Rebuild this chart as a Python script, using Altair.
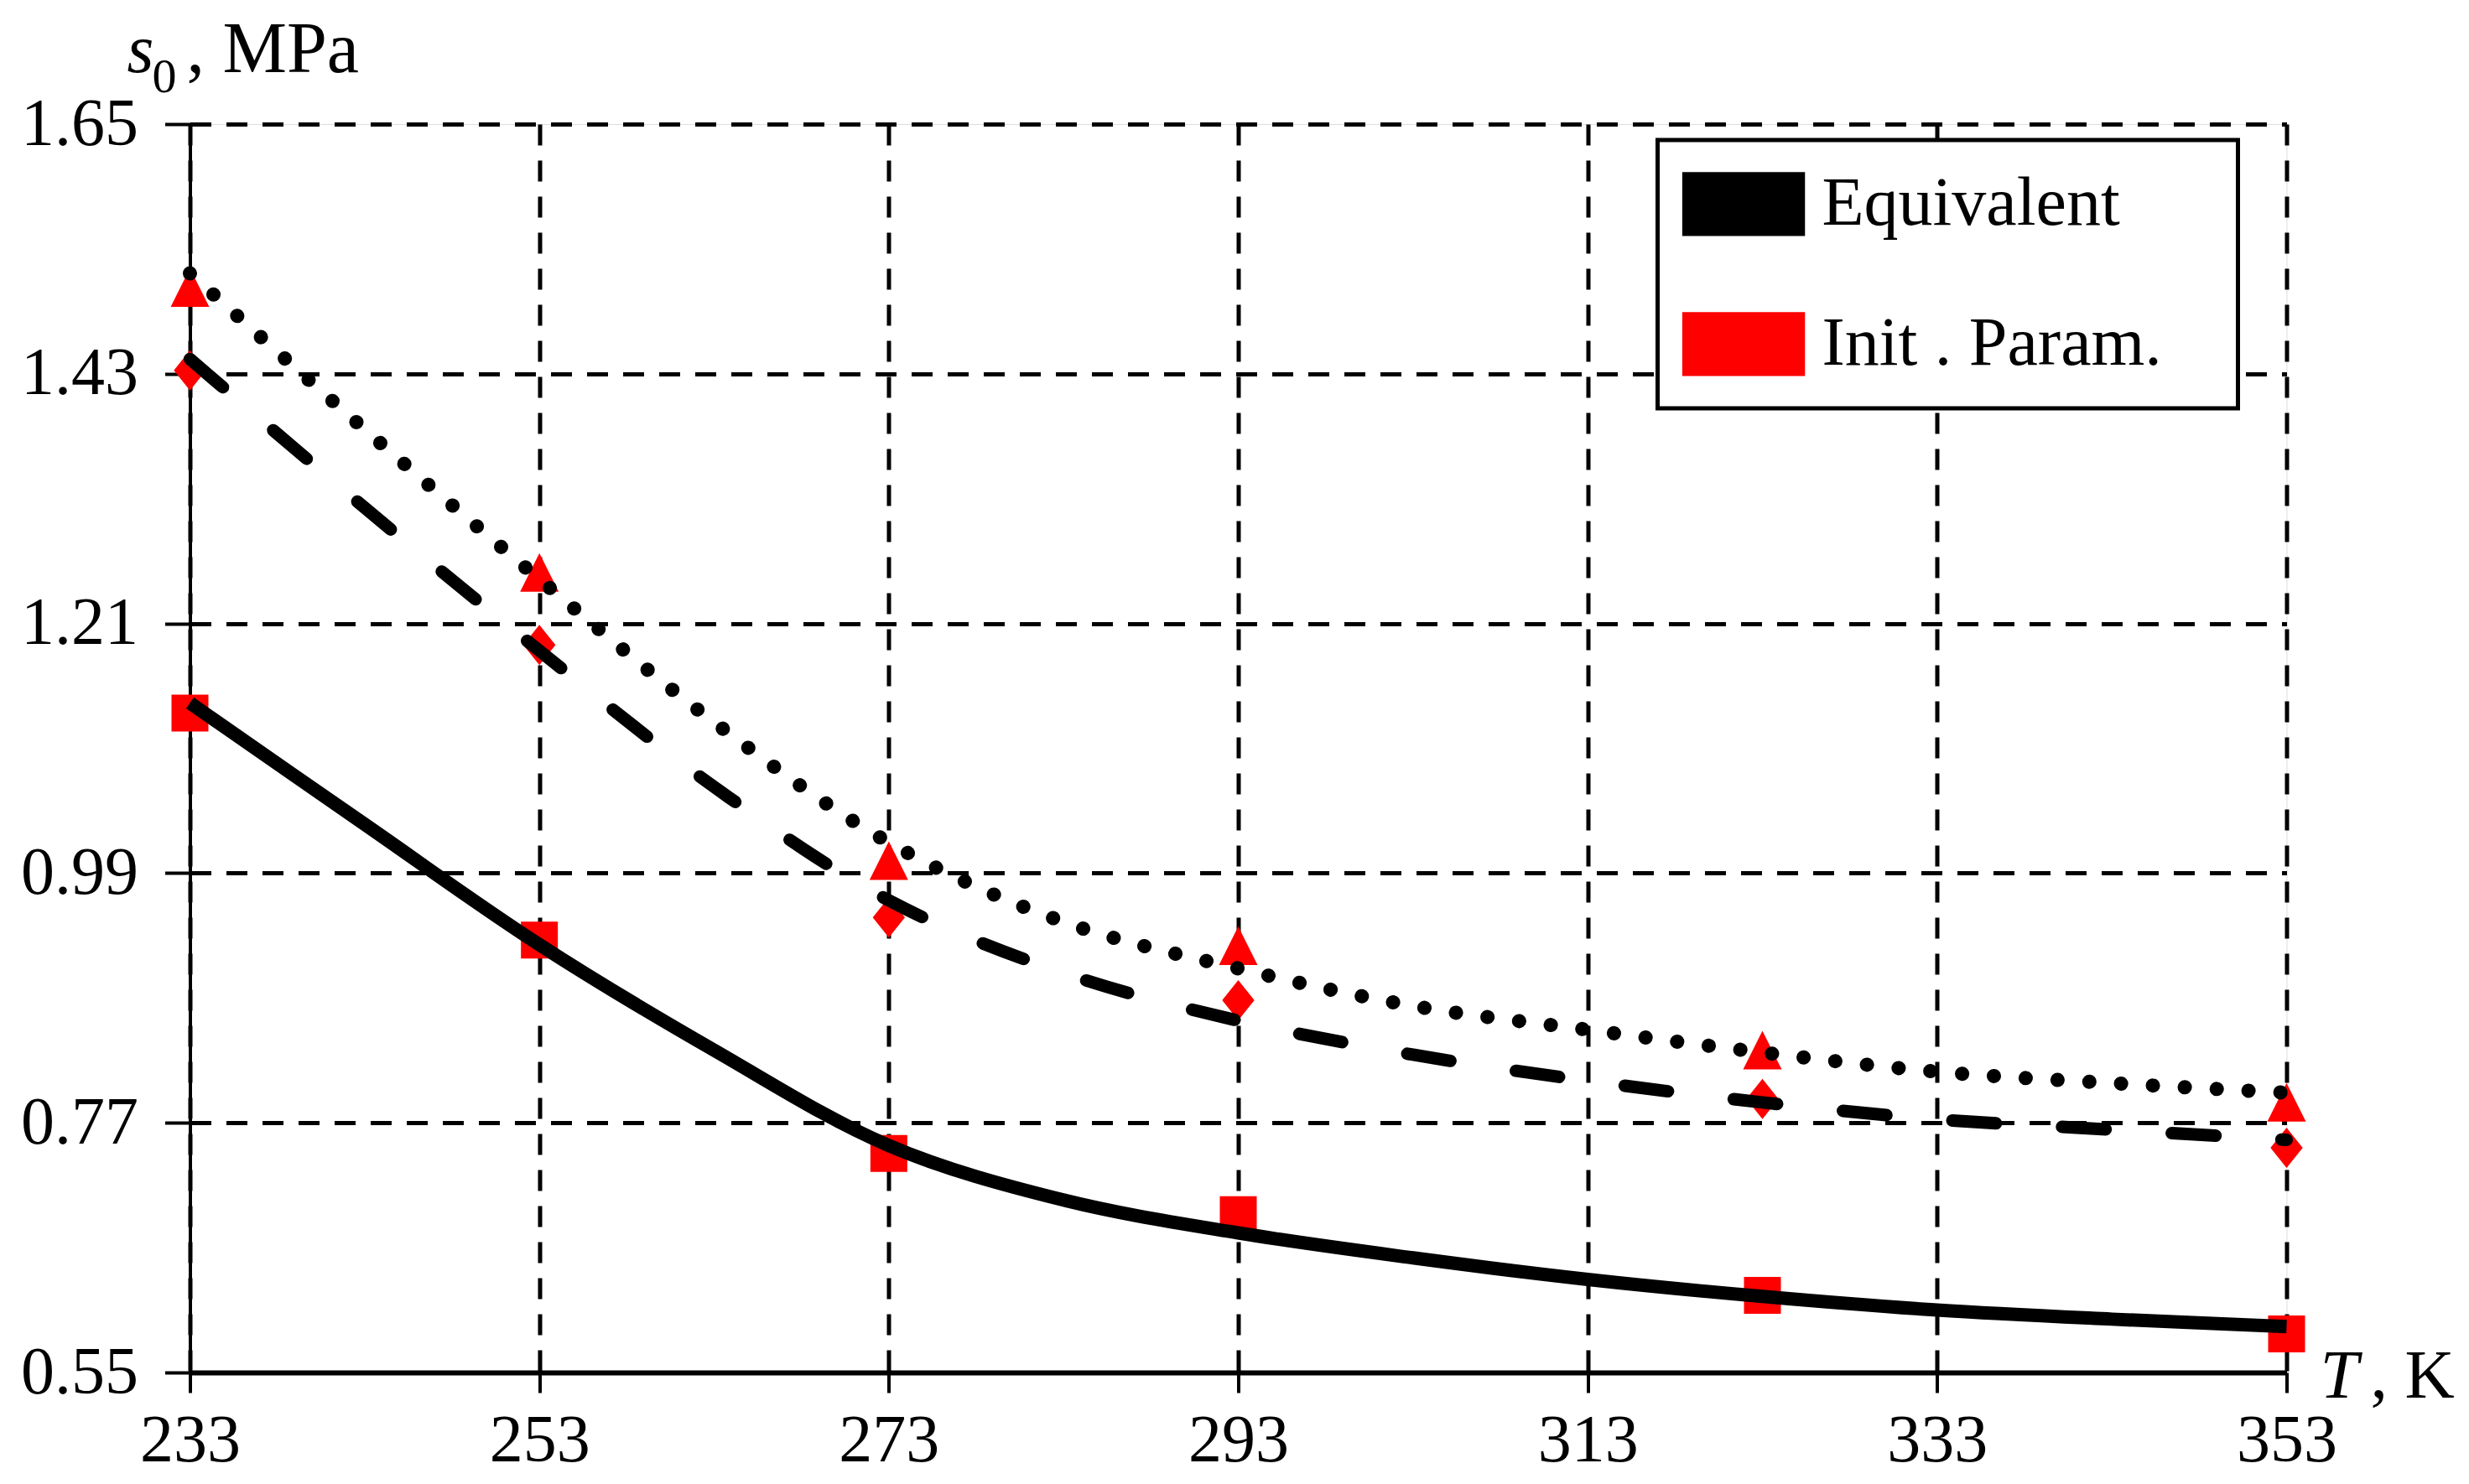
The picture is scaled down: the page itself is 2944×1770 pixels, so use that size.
import altair as alt
import pandas as pd

FONT = "Liberation Serif"

# ---- data ----
T_GRID = [233, 243, 253, 263, 273, 283, 293, 303, 313, 323, 333, 343, 353]
EQ_SOLID = [1.140, 1.033, 0.927, 0.834, 0.750, 0.702, 0.673, 0.651, 0.632, 0.617, 0.605, 0.597, 0.5905]
EQ_DASHED = [1.443, 1.312, 1.186, 1.066, 0.966, 0.902, 0.860, 0.830, 0.807, 0.788, 0.773, 0.764, 0.755]
EQ_DOTTED = [1.5185, 1.381, 1.249, 1.123, 1.017, 0.947, 0.906, 0.873, 0.852, 0.832, 0.815, 0.805, 0.7965]

T_POINTS = [233, 253, 273, 293, 323, 353]
INIT_SQUARE = [1.131, 0.931, 0.743, 0.689, 0.618, 0.584]
INIT_DIAMOND = [1.433, 1.191, 0.951, 0.878, 0.791, 0.748]
INIT_TRIANGLE = [1.506, 1.255, 1.001, 0.926, 0.834, 0.788]

X_TICKS = [233, 253, 273, 293, 313, 333, 353]
Y_TICKS = [0.55, 0.77, 0.99, 1.21, 1.43, 1.65]
LEGEND_LABELS = ["Equivalent", "Init . Param."]
LEGEND_COLORS = ["#000000", "#ff0000"]
Y_TITLE_PARTS = ["s", "0", ", MPa"]
X_TITLE_PARTS = ["T", ", K"]

W, H = 2500, 1489

def curve_df(vals):
    return pd.DataFrame({"T": T_GRID, "s0": vals})

def point_df(vals):
    return pd.DataFrame({"T": T_POINTS, "s0": vals, "series": [LEGEND_LABELS[1]] * len(vals)})

x_axis = alt.Axis(values=X_TICKS, format="d", title=None, grid=True,
                  gridDash=[25, 18], gridColor="black", gridWidth=5, gridOpacity=1,
                  domainColor="black", domainWidth=6, tickColor="black", tickWidth=4,
                  tickSize=24, labelFont=FONT, labelFontSize=80, labelColor="black",
                  labelPadding=18, labelFlush=False, labelOverlap=False)
y_axis = alt.Axis(values=Y_TICKS, format=".2f", title=None, grid=True,
                  gridDash=[25, 18], gridColor="black", gridWidth=5, gridOpacity=1,
                  domainColor="black", domainWidth=4, tickColor="black", tickWidth=4,
                  tickSize=30, labelFont=FONT, labelFontSize=80, labelColor="black",
                  labelPadding=32, labelFlush=False, labelOverlap=False)

x_enc = alt.X("T:Q", scale=alt.Scale(domain=[233, 353], nice=False, zero=False), axis=x_axis)
y_enc = alt.Y("s0:Q", scale=alt.Scale(domain=[0.55, 1.65], nice=False, zero=False), axis=y_axis)

legend = alt.Legend(
    title=None, orient="none", legendX=1750, legendY=19,
    symbolType="M-1,-0.52H1V0.52H-1Z", symbolSize=21462, symbolStrokeWidth=0,
    labelFont=FONT, labelFontSize=82, labelColor="black", labelOffset=20,
    labelLimit=2000, labelExpr="datum.label + '\u00a0\u00a0\u00a0\u200b'",
    padding=29, rowPadding=72, clipHeight=94.7,
    strokeColor="black", fillColor="white",
)
fill_enc = alt.Fill("series:N", scale=alt.Scale(domain=LEGEND_LABELS, range=LEGEND_COLORS),
                    legend=legend)

def markers(vals, shape, size):
    return alt.Chart(point_df(vals)).mark_point(
        filled=True, shape=shape, size=size, opacity=1, strokeWidth=0
    ).encode(x=x_enc, y=y_enc, fill=fill_enc)

sq = markers(INIT_SQUARE, "square", 1936)
dia = markers(INIT_DIAMOND, "M0,-1L0.8,0L0,1L-0.8,0Z", 2304)
tri = markers(INIT_TRIANGLE, "M0,-1L1,1L-1,1Z", 2116)

solid = alt.Chart(curve_df(EQ_SOLID)).mark_line(
    color="black", strokeWidth=16, interpolate="catmull-rom", strokeCap="butt"
).encode(x=x_enc, y=y_enc)
dashed = alt.Chart(curve_df(EQ_DASHED)).mark_line(
    color="black", strokeWidth=15, interpolate="catmull-rom", strokeCap="round",
    strokeDash=[52, 79]
).encode(x=x_enc, y=y_enc)
dotted = alt.Chart(curve_df(EQ_DOTTED)).mark_line(
    color="black", strokeWidth=17, interpolate="catmull-rom", strokeCap="round",
    strokeDash=[0.1, 37.9]
).encode(x=x_enc, y=y_enc)

def label(txt, px, py, size=80, style="normal"):
    return alt.Chart(pd.DataFrame({"t": [txt]})).mark_text(
        font=FONT, fontSize=size, fontStyle=style, color="black",
        align="left", baseline="alphabetic"
    ).encode(text="t:N", x=alt.value(px), y=alt.value(py))

t1 = label(Y_TITLE_PARTS[0], -75, -62, 82, "italic")
t2 = label(Y_TITLE_PARTS[1], -45, -38, 58)
t3 = label(Y_TITLE_PARTS[2], -4, -62, 86)
t4 = label(X_TITLE_PARTS[0], 2540, H + 30, 82, "italic")
t5 = label(X_TITLE_PARTS[1], 2600, H + 30, 82)

chart = alt.layer(sq, dia, tri, solid, dashed, dotted, t1, t2, t3, t4, t5).properties(
    width=W, height=H,
    autosize=alt.AutoSizeParams(type="none"),
    padding={"left": 218.5, "top": 140, "right": 200, "bottom": 125},
).configure_view(strokeWidth=0).configure(background="white").configure_legend(strokeWidth=5)

chart.save("out.html", embed_options={"renderer": "svg", "actions": False})
